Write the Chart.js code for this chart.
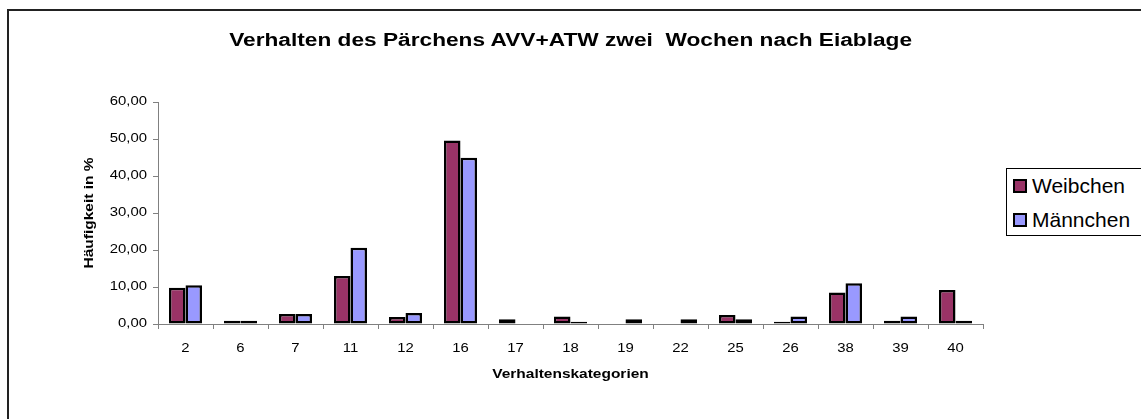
<!DOCTYPE html>
<html>
<head>
<meta charset="utf-8">
<script src="https://cdn.jsdelivr.net/npm/chart.js@4.4.1/dist/chart.umd.min.js"></script>
<style>
  html, body { margin: 0; padding: 0; background: #fff; overflow: hidden; }
  #wrap { position: relative; width: 1141px; height: 419px; font-family: 'Liberation Sans', Arial, sans-serif; }
  #frame { position: absolute; left: 7px; top: 9px; width: 1200px; height: 500px; border-left: 2px solid #222; border-top: 2px solid #222; }
  #title { position: absolute; left: 0; top: 30px; width: 1141px; text-align: center; font-weight: bold; font-size: 18px; color: #000; white-space: pre; transform: scaleX(1.26); transform-origin: 570px 0; }
  #chart { position: absolute; left: 0; top: 0; }
  #legend { position: absolute; left: 1006px; top: 168px; width: 140px; height: 66px; border: 1px solid #000; background: #fff; }
  .item { position: absolute; left: 6px; height: 24px; font-size: 21px; line-height: 24px; color: #000; white-space: nowrap; }
  .sw { display: inline-block; box-sizing: border-box; width: 14px; height: 14px; border: 2px solid #000; vertical-align: 0px; margin-right: 5px; }
</style>
</head>
<body>
<div id="wrap">
  <div id="frame"></div>
  <canvas id="chart" width="1141" height="419"></canvas>
  <div id="title">Verhalten des Pärchens AVV+ATW zwei  Wochen nach Eiablage</div>
  <div id="legend">
    <div class="item" style="top:5px"><span class="sw" style="background:#993366"></span>Weibchen</div>
    <div class="item" style="top:39px"><span class="sw" style="background:#9999FF"></span>Männchen</div>
  </div>
</div>
<script>
// Kategorien und Werte (Häufigkeit in %)
const categories = ['2', '6', '7', '11', '12', '16', '17', '18', '19', '22', '25', '26', '38', '39', '40'];
const weibchen = [9.8, 0.9, 2.7, 13.0, 1.9, 49.6, 1.3, 2.0, 0, 0, 2.4, 0.6, 8.5, 0.9, 9.2];
const maennchen = [10.5, 0.9, 2.7, 20.6, 3.0, 44.9, 0, 0.6, 1.3, 1.3, 1.3, 2.0, 11.0, 2.0, 0.9];
const yTicks = [0, 10, 20, 30, 40, 50, 60];

const axisColor = '#808080';
const fontFamily = "'Liberation Sans', Arial, sans-serif";

// Texte im Original sind in Laufrichtung etwas gestreckt
const textStretch = 1.19;
const canvas = document.getElementById('chart');
const ctx2d = canvas.getContext('2d');
const origFillText = ctx2d.fillText;
ctx2d.fillText = function(text, x, y, maxWidth) {
    this.save();
    this.translate(x, y);
    this.scale(textStretch, 1);
    if (maxWidth !== undefined) origFillText.call(this, text, 0, 0, maxWidth / textStretch);
    else origFillText.call(this, text, 0, 0);
    this.restore();
};

new Chart(canvas, {
    type: 'bar',
    data: {
        labels: categories,
        datasets: [
            {
                label: 'Weibchen',
                data: weibchen,
                backgroundColor: '#993366',
                borderColor: '#000',
                borderWidth: 2.5,
                borderSkipped: false,
                categoryPercentage: 0.6,
                barPercentage: 1.0
            },
            {
                label: 'Männchen',
                data: maennchen,
                backgroundColor: '#9999FF',
                borderColor: '#000',
                borderWidth: 2.5,
                borderSkipped: false,
                categoryPercentage: 0.6,
                barPercentage: 1.0
            }
        ]
    },
    options: {
        responsive: false,
        animation: false,
        layout: { padding: { top: 102, right: 158, bottom: 0, left: 0 } },
        plugins: {
            legend: { display: false },
            tooltip: { enabled: false }
        },
        scales: {
            x: {
                afterFit: function(scale) { scale.height = 95; },
                grid: { drawOnChartArea: false, tickLength: 5, color: axisColor, offset: true },
                border: { color: axisColor, width: 1 },
                ticks: { color: '#000', font: { family: fontFamily, size: 12.5 }, padding: 12, maxRotation: 0, autoSkip: false },
                title: {
                    display: true,
                    text: 'Verhaltenskategorien',
                    color: '#000',
                    font: { family: fontFamily, size: 13, weight: 'bold' },
                    padding: { top: 0, bottom: 37 }
                }
            },
            y: {
                min: 0,
                max: 60,
                afterFit: function(scale) { scale.width = 158; },
                afterBuildTicks: function(scale) { scale.ticks = yTicks.map(v => ({ value: v })); },
                grid: { drawOnChartArea: false, tickLength: 5, color: axisColor },
                border: { color: axisColor, width: 1 },
                ticks: {
                    color: '#000',
                    font: { family: fontFamily, size: 12.5 },
                    padding: 6,
                    callback: function(value) { return value.toFixed(2).replace('.', ','); }
                },
                title: {
                    display: true,
                    text: 'Häufigkeit in %',
                    color: '#000',
                    font: { family: fontFamily, size: 13, weight: 'bold' },
                    padding: { top: 82, bottom: 0 }
                }
            }
        }
    }
});
</script>
</body>
</html>
